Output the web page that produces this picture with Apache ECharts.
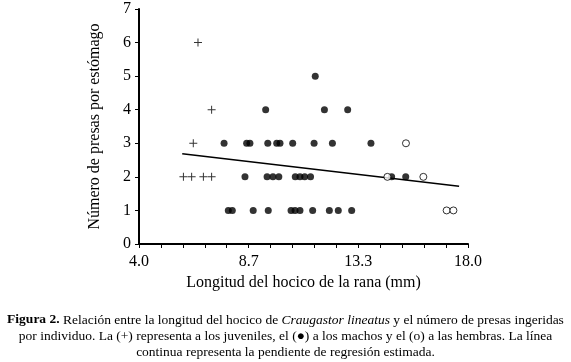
<!DOCTYPE html>
<html>
<head>
<meta charset="utf-8">
<script src="https://cdn.jsdelivr.net/npm/echarts@6/dist/echarts.min.js"></script>
<style>
  html, body { margin: 0; padding: 0; background: #fff; }
  #chart-container { width: 571px; height: 362px; }
</style>
</head>
<body>
<div id="chart-container"></div>
<script>
// snout length (mm) vs. number of prey per stomach
var juvenilesX = [6.51, 7.09, 6.31, 5.89, 6.24, 6.74, 7.09];
var juvenilesY = [6, 4, 3, 2, 2, 2, 2];

var malesX = [11.5,
    9.39, 11.89, 12.88,
    7.62, 8.58, 8.72, 9.48, 9.86, 10.0, 10.54, 11.45, 12.23, 13.87,
    8.51, 9.45, 9.7, 9.95, 10.65, 10.85, 11.05, 11.3, 14.75, 15.35,
    7.8, 7.97, 8.86, 9.5, 10.47, 10.64, 10.85, 11.39, 12.1, 12.48, 13.05];
var malesY = [5,
    4, 4, 4,
    3, 3, 3, 3, 3, 3, 3, 3, 3, 3,
    2, 2, 2, 2, 2, 2, 2, 2, 2, 2,
    1, 1, 1, 1, 1, 1, 1, 1, 1, 1, 1];

var femalesX = [15.36, 14.57, 16.1, 17.09, 17.38];
var femalesY = [3, 2, 2, 1, 1];

// estimated regression line, end points
var regX = [5.84, 17.62];
var regY = [2.69, 1.72];

var yTicks = [0, 1, 2, 3, 4, 5, 6, 7];
var xTickLabels = ['4.0', '8.7', '13.3', '18.0'];

function pairs(xs, ys) {
    return xs.map(function (x, i) { return [x, ys[i]]; });
}

var xMin = 4, xMax = 18;
// 15 minor ticks, a label on every fifth one
var minorTicks = [];
for (var i = 0; i <= 15; i++) minorTicks.push(xMin + i * (xMax - xMin) / 15);
var labelTicks = xTickLabels.map(function (s, k) { return xMin + k * (xMax - xMin) / 3; });

var serif = 'Liberation Serif';
var myChart = echarts.init(document.getElementById('chart-container'));

var option = {
    animation: false,
    textStyle: { fontFamily: serif, color: '#000' },
    grid: { left: 139, right: 103, top: 9, bottom: 118 },
    xAxis: {
        type: 'value',
        min: xMin,
        max: xMax,
        name: 'Longitud del hocico de la rana (mm)',
        nameLocation: 'middle',
        nameGap: 26,
        nameTextStyle: { fontFamily: serif, fontSize: 16, color: '#000' },
        axisLine: { lineStyle: { color: '#000', width: 2 } },
        axisTick: { show: true, length: 4, lineStyle: { color: '#000' }, customValues: minorTicks },
        axisLabel: {
            fontFamily: serif, fontSize: 16, color: '#000', margin: 10,
            customValues: labelTicks,
            formatter: function (v) {
                var k = labelTicks.indexOf(v);
                return k >= 0 ? xTickLabels[k] : v.toFixed(1);
            }
        },
        splitLine: { show: false }
    },
    yAxis: {
        type: 'value',
        min: 0,
        max: 7,
        interval: 1,
        name: 'Número de presas por estómago',
        nameLocation: 'middle',
        nameRotate: 90,
        nameGap: 36,
        nameTextStyle: { fontFamily: serif, fontSize: 16, color: '#000' },
        axisLine: { show: true, lineStyle: { color: '#000', width: 2 } },
        axisTick: { show: true, length: 4, lineStyle: { color: '#000' } },
        axisLabel: {
            fontFamily: serif, fontSize: 16, color: '#000', margin: 8,
            formatter: function (v) { return yTicks.indexOf(v) >= 0 ? String(v) : ''; }
        },
        splitLine: { show: false }
    },
    series: [
        {
            type: 'line',
            data: pairs(regX, regY),
            symbol: 'none',
            lineStyle: { color: '#000', width: 1.5 },
            z: 1
        },
        {
            type: 'scatter',
            data: pairs(juvenilesX, juvenilesY),
            symbol: 'path://M3.5,0h1v8h-1zM0,3.5h8v1h-8z',
            symbolSize: 8,
            itemStyle: { color: '#000' }
        },
        {
            type: 'scatter',
            data: pairs(malesX, malesY),
            symbol: 'circle',
            symbolSize: 7,
            itemStyle: { color: '#000' }
        },
        {
            type: 'scatter',
            data: pairs(femalesX, femalesY),
            symbol: 'circle',
            symbolSize: 7,
            itemStyle: { color: '#fff', borderColor: '#000', borderWidth: 1 }
        }
    ],
    graphic: {
        elements: [{
            type: 'text',
            x: 285.5,
            y: 312,
            style: {
                text: '{b|Figura 2.} Relación entre la longitud del hocico de {i|Craugastor lineatus} y el número de presas ingeridas\n' +
                      'por individuo. La (+) representa a los juveniles, el (●) a los machos y el (o) a las hembras. La línea\n' +
                      'continua representa la pendiente de regresión estimada.',
                align: 'center',
                fontFamily: serif,
                fontSize: 13.5,
                lineHeight: 16,
                fill: '#000',
                rich: {
                    b: { fontFamily: serif, fontSize: 13.5, fontWeight: 'bold', lineHeight: 16 },
                    i: { fontFamily: serif, fontSize: 13.5, fontStyle: 'italic', lineHeight: 16 }
                }
            }
        }]
    }
};
myChart.setOption(option);
</script>
</body>
</html>
